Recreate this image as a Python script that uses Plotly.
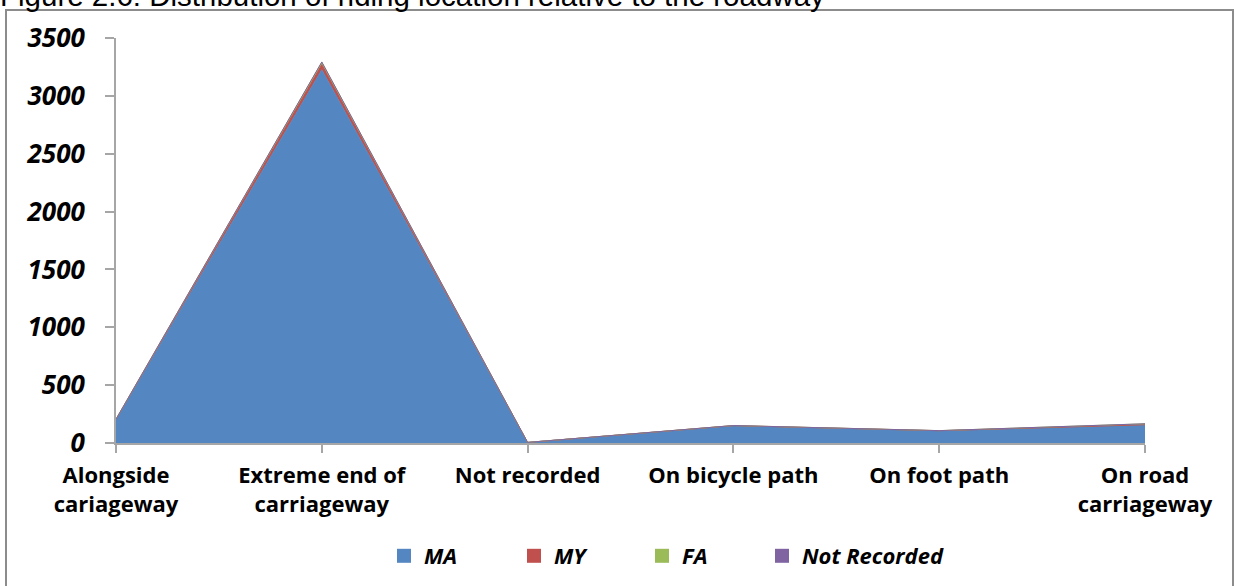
# ==========================================================
# Riding location relative to the roadway (stacked area)
# ==========================================================

import plotly.graph_objects as go


# ==========================================================
# Data
# ==========================================================

categories = [
    "Alongside<br>cariageway",
    "Extreme end of<br>carriageway",
    "Not recorded",
    "On bicycle path",
    "On foot path",
    "On road<br>carriageway",
]

ma_values = [200, 3225, 5, 148, 105, 155]
my_values = [4, 45, 0, 2, 1, 3]
fa_values = [2, 20, 0, 1, 1, 8]
not_recorded_values = [0, 3, 0, 0, 0, 0]

series_names = ["MA", "MY", "FA", "Not Recorded"]
series_colors = ["#5487C1", "#C0504D", "#9BBB59", "#8064A2"]


# ==========================================================
# Figure
# ==========================================================

W, H = 1235, 586
L, R, T, B = 116, 90, 38, 143
plot_w = W - L - R
plot_h = H - T - B


def px_x(px):
    return (px - L) / plot_w


def px_y(py):
    return (H - B - py) / plot_h


# left edge (px) of each legend entry, one legend per series
legend_left = [384, 514, 642, 762]

legend_font = dict(family="Open Sans, Arial, sans-serif", size=22,
                   color="black", weight="bold", style="italic")

fig = go.Figure()

all_values = [ma_values, my_values, fa_values, not_recorded_values]

for i, (name, values, color) in enumerate(
        zip(series_names, all_values, series_colors)):

    fig.add_trace(
        go.Scatter(
            x=categories,
            y=values,
            mode="lines",
            stackgroup="one",
            line=dict(width=1, color=color),
            fillcolor=color,
            showlegend=False,
            hovertemplate=name + ": %{y}<extra></extra>",
        )
    )

    legend_id = "legend" if i == 0 else f"legend{i + 1}"

    # legend entry drawn as a square swatch
    fig.add_trace(
        go.Scatter(
            x=[None],
            y=[None],
            mode="markers",
            name=name,
            legend=legend_id,
            marker=dict(symbol="square", size=14, color=color),
            hoverinfo="skip",
        )
    )

    # container-referenced so the legends do not push the margins
    fig.update_layout({
        legend_id: dict(
            orientation="h",
            xref="container",
            yref="container",
            x=legend_left[i] / W,
            xanchor="left",
            y=1 - 556 / H,
            yanchor="middle",
            font=legend_font,
            bgcolor="rgba(0,0,0,0)",
        )
    })

fig.update_layout(
    width=W,
    height=H,
    margin=dict(l=L, r=R, t=T, b=B),
    plot_bgcolor="white",
    paper_bgcolor="white",
    showlegend=True,
    xaxis=dict(
        type="category",
        range=[0, len(categories) - 1],
        showline=True,
        linecolor="#A6A6A6",
        linewidth=2,
        ticks="outside",
        ticklen=8,
        tickcolor="#A6A6A6",
        tickwidth=2,
        showgrid=False,
        zeroline=False,
        ticklabelstandoff=4,
        tickfont=dict(family="Open Sans, Arial, sans-serif", size=22,
                      color="black", weight="bold"),
    ),
    yaxis=dict(
        range=[0, 3500],
        dtick=500,
        showline=True,
        linecolor="#A6A6A6",
        linewidth=2,
        ticks="outside",
        ticklen=9,
        tickcolor="#A6A6A6",
        tickwidth=2,
        showgrid=False,
        zeroline=False,
        ticklabelstandoff=15,
        tickfont=dict(family="Open Sans, Arial, sans-serif", size=26,
                      color="black", weight="bold", style="italic"),
    ),
)

# chart frame
fig.add_shape(
    type="rect",
    xref="paper",
    yref="paper",
    x0=px_x(6),
    x1=px_x(1233),
    y0=px_y(600),
    y1=px_y(10),
    line=dict(color="#8C8C8C", width=2),
    layer="below",
)

# caption, cut at the top edge as in the source page
fig.add_annotation(
    text="Figure 2.6: Distribution of riding location relative to the roadway",
    xref="paper",
    yref="paper",
    x=px_x(-2),
    y=px_y(14),
    xanchor="left",
    yanchor="bottom",
    showarrow=False,
    font=dict(family="Liberation Sans, Arial, sans-serif", size=29.5,
              color="black"),
)

# the page body has an 8px default margin; drop it so the
# figure sits flush in the window
fig.write_html(
    "out.html",
    config={"displayModeBar": False},
    post_script="document.body.style.margin='0';",
)
